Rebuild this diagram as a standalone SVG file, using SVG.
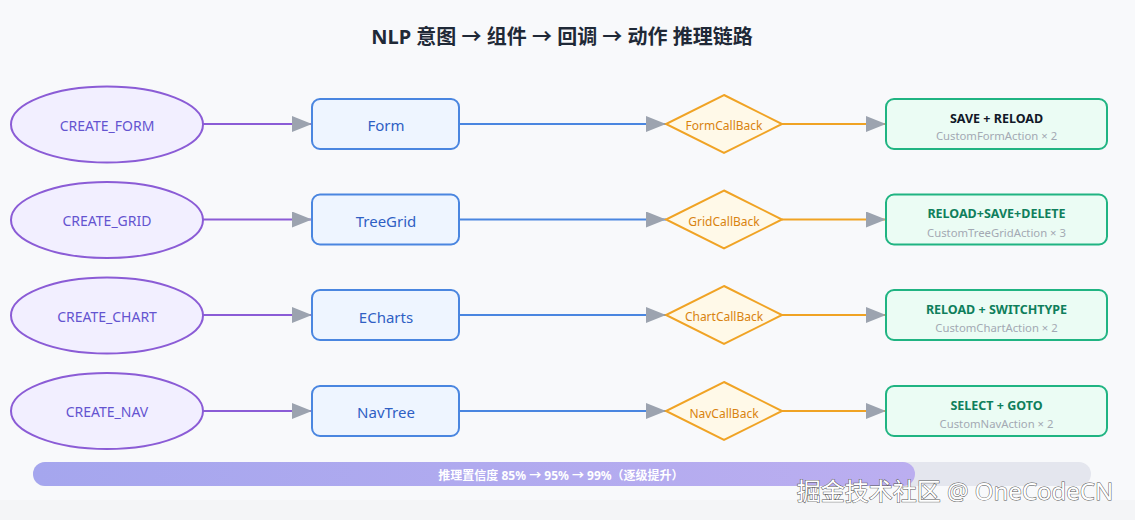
<svg xmlns="http://www.w3.org/2000/svg" width="1135" height="520" viewBox="0 0 1135 520">
  <defs>
    <marker id="arr" viewBox="0 0 20 16" refX="20" refY="8" markerWidth="20" markerHeight="16" markerUnits="userSpaceOnUse" orient="auto">
      <path d="M0,0 L20,8 L0,16 Z" fill="#9ca3af"/>
    </marker>
    <linearGradient id="prog" x1="0" y1="0" x2="1" y2="0">
      <stop offset="0" stop-color="#a5a6ee"/>
      <stop offset="1" stop-color="#bbaef0"/>
    </linearGradient>
    <style>
      text { font-family: "Noto Sans", "Noto Sans CJK SC", sans-serif; text-anchor: middle; dominant-baseline: central; }
      .intent ellipse { fill: #f2efff; stroke: #8b5cd6; stroke-width: 2; }
      .intent text { fill: #6454d0; font-size: 14px; }
      .comp rect { fill: #eef5ff; stroke: #4a86e0; stroke-width: 2; }
      .comp text { fill: #2f5fc4; font-size: 15px; }
      .cb polygon { fill: #fff9e8; stroke: #f0a324; stroke-width: 2; }
      .cb text { fill: #d9830f; font-size: 12px; }
      .act rect { fill: #ebfcf4; stroke: #20b482; stroke-width: 2; }
      .act .t { fill: #0f7f5c; font-size: 12.5px; font-weight: bold; }
      .act .t.dark { fill: #111827; }
      .act .s { fill: #a3a9b3; font-size: 11.3px; }
      .c1 { stroke: #8b5cd6; stroke-width: 2; fill: none; marker-end: url(#arr); }
      .c2 { stroke: #4a86e0; stroke-width: 2; fill: none; marker-end: url(#arr); }
      .c3 { stroke: #f0a324; stroke-width: 2; fill: none; marker-end: url(#arr); }
    </style>
  </defs>
  <rect x="0" y="0" width="1135" height="520" fill="#f8f9fb"/>
  <rect x="0" y="500" width="1135" height="20" fill="#f4f5f7"/>

  <text x="562" y="36" font-size="20" font-weight="bold" fill="#1f2937">NLP 意图 → 组件 → 回调 → 动作 推理链路</text>

  <g id="connectors">
    <line class="c1" x1="203" y1="124" x2="312" y2="124"/>
    <line class="c2" x1="459" y1="124" x2="666" y2="124"/>
    <line class="c3" x1="782" y1="124" x2="886" y2="124"/>
    <line class="c1" x1="203" y1="219.5" x2="312" y2="219.5"/>
    <line class="c2" x1="459" y1="219.5" x2="666" y2="219.5"/>
    <line class="c3" x1="782" y1="219.5" x2="886" y2="219.5"/>
    <line class="c1" x1="203" y1="315" x2="312" y2="315"/>
    <line class="c2" x1="459" y1="315" x2="666" y2="315"/>
    <line class="c3" x1="782" y1="315" x2="886" y2="315"/>
    <line class="c1" x1="203" y1="411" x2="312" y2="411"/>
    <line class="c2" x1="459" y1="411" x2="666" y2="411"/>
    <line class="c3" x1="782" y1="411" x2="886" y2="411"/>
  </g>

  <g id="intent-form" class="intent"><ellipse cx="107" cy="124.5" rx="96" ry="38"/><text x="107" y="125">CREATE_FORM</text></g>
  <g id="intent-grid" class="intent"><ellipse cx="107" cy="220" rx="96" ry="38"/><text x="107" y="220.5">CREATE_GRID</text></g>
  <g id="intent-chart" class="intent"><ellipse cx="107" cy="315.5" rx="96" ry="38"/><text x="107" y="316">CREATE_CHART</text></g>
  <g id="intent-nav" class="intent"><ellipse cx="107" cy="411" rx="96" ry="38"/><text x="107" y="411.5">CREATE_NAV</text></g>

  <g id="comp-form" class="comp"><rect x="312" y="99" width="147" height="50" rx="8"/><text x="386" y="125">Form</text></g>
  <g id="comp-treegrid" class="comp"><rect x="312" y="194.5" width="147" height="50" rx="8"/><text x="386" y="220.5">TreeGrid</text></g>
  <g id="comp-echarts" class="comp"><rect x="312" y="290" width="147" height="50" rx="8"/><text x="386" y="317">ECharts</text></g>
  <g id="comp-navtree" class="comp"><rect x="312" y="386" width="147" height="50" rx="8"/><text x="386" y="412">NavTree</text></g>

  <g id="cb-form" class="cb"><polygon points="724,95 782,124 724,153 666,124"/><text x="724" y="125.5">FormCallBack</text></g>
  <g id="cb-grid" class="cb"><polygon points="724,190.5 782,219.5 724,248.5 666,219.5"/><text x="724" y="221.5">GridCallBack</text></g>
  <g id="cb-chart" class="cb"><polygon points="724,286 782,315 724,344 666,315"/><text x="724" y="316.5">ChartCallBack</text></g>
  <g id="cb-nav" class="cb"><polygon points="724,382 782,411 724,440 666,411"/><text x="724" y="413">NavCallBack</text></g>

  <g id="act-form" class="act"><rect x="886" y="99" width="221" height="50" rx="8"/><text class="t dark" x="996.5" y="118">SAVE + RELOAD</text><text class="s" x="996.5" y="135.5">CustomFormAction × 2</text></g>
  <g id="act-grid" class="act"><rect x="886" y="194.5" width="221" height="50" rx="8"/><text class="t" x="996.5" y="213.5">RELOAD+SAVE+DELETE</text><text class="s" x="996.5" y="232">CustomTreeGridAction × 3</text></g>
  <g id="act-chart" class="act"><rect x="886" y="290" width="221" height="50" rx="8"/><text class="t" x="996.5" y="309">RELOAD + SWITCHTYPE</text><text class="s" x="996.5" y="327">CustomChartAction × 2</text></g>
  <g id="act-nav" class="act"><rect x="886" y="386" width="221" height="50" rx="8"/><text class="t" x="996.5" y="405">SELECT + GOTO</text><text class="s" x="996.5" y="423">CustomNavAction × 2</text></g>

  <g id="progress">
    <rect x="33" y="462" width="1058" height="24" rx="12" fill="#e4e6ee"/>
    <rect x="33" y="462" width="882" height="24" rx="12" fill="url(#prog)"/>
    <text x="561" y="475" font-size="12" font-weight="bold" fill="#ffffff">推理置信度 85% → 95% → 99%（逐级提升）</text>
  </g>

  <text x="955" y="490" font-size="24" fill="#ffffff" stroke="#555555" stroke-width="1" paint-order="stroke">掘金技术社区 @ OneCodeCN</text>
</svg>
